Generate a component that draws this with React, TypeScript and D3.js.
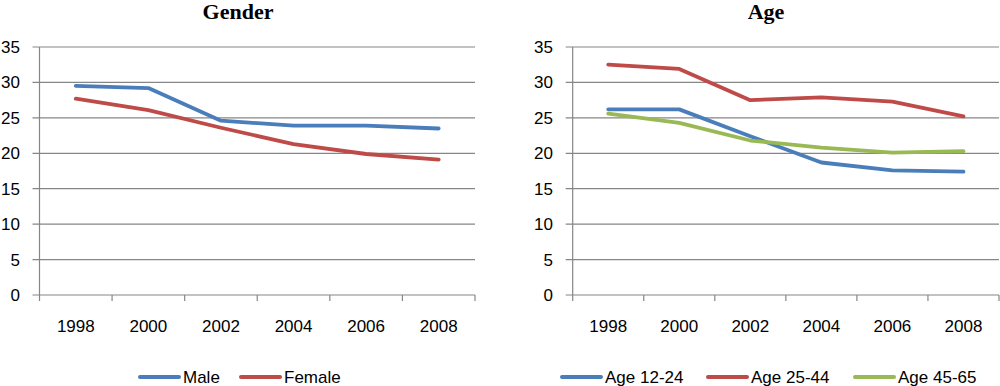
import * as d3 from "d3";

const years = ["1998", "2000", "2002", "2004", "2006", "2008"];
const yTicks = [0, 5, 10, 15, 20, 25, 30, 35];

const male = [29.5, 29.2, 24.6, 23.9, 23.9, 23.5];
const female = [27.7, 26.1, 23.6, 21.3, 19.9, 19.1];

const age1224 = [26.2, 26.2, 22.4, 18.7, 17.6, 17.4];
const age2544 = [32.5, 31.9, 27.5, 27.9, 27.3, 25.2];
const age4565 = [25.6, 24.3, 21.8, 20.8, 20.1, 20.3];

const BLUE = "#4a7ebb";
const RED = "#be4b48";
const GREEN = "#98b954";
const GRID = "#868686";
const FONT = "'Liberation Sans', Arial, sans-serif";

interface Series {
    name: string;
    values: number[];
    color: string;
}

interface PanelProps {
    title: string;
    titleX: number;
    left: number;
    right: number;
    labelRight: number;
    series: Series[];
    legendX: number[];
}

function Panel({ title, titleX, left, right, labelRight, series, legendX }: PanelProps) {
    const top = 47;
    const bottom = 295;
    const x = d3.scaleBand<string>(years, [left, right]).padding(0);
    const y = d3.scaleLinear([0, 35], [bottom, top]);
    const line = d3.line<number>((d, i) => x(years[i])! + x.bandwidth() / 2, y);

    const bounds = [...years.map((yr) => x(yr)!), right];

    return (
        <g>
            <text x={titleX} y={19} textAnchor="middle" fontFamily="'Liberation Serif', 'Times New Roman', serif"
                  fontWeight="bold" fontSize={22} fill="#000">{title}</text>

            {/* gridlines + y labels */}
            {yTicks.map((t) => (
                <g key={t}>
                    <line x1={left - 7} x2={right} y1={y(t)} y2={y(t)} stroke={GRID} strokeWidth={1.2} />
                    <text x={labelRight} y={y(t) + 6} textAnchor="end" fontFamily={FONT} fontSize={17} fill="#000">{t}</text>
                </g>
            ))}

            {/* y axis */}
            <line x1={left} x2={left} y1={top} y2={bottom} stroke={GRID} strokeWidth={1.2} />

            {/* x ticks */}
            {bounds.map((b, i) => (
                <line key={i} x1={b} x2={b} y1={bottom} y2={bottom + 6} stroke={GRID} strokeWidth={1.2} />
            ))}
            {years.map((yr) => (
                <text key={yr} x={x(yr)! + x.bandwidth() / 2} y={332} textAnchor="middle" fontFamily={FONT}
                      fontSize={17} fill="#000">{yr}</text>
            ))}

            {series.map((s) => (
                <path key={s.name} d={line(s.values) || undefined} fill="none" stroke={s.color}
                      strokeWidth={3.8} strokeLinejoin="round" strokeLinecap="round" />
            ))}

            {/* legend */}
            {series.map((s, i) => (
                <g key={s.name}>
                    <line x1={legendX[i]} x2={legendX[i] + 39} y1={377} y2={377} stroke={s.color}
                          strokeWidth={4} strokeLinecap="round" />
                    <text x={legendX[i] + 43} y={383} fontFamily={FONT} fontSize={17} fill="#000">{s.name}</text>
                </g>
            ))}
        </g>
    );
}

export default function App() {
    return (
        <svg width={1000} height={386} style={{ position: "absolute", left: 0, top: 0, background: "#fff" }}>
            <Panel
                title="Gender"
                titleX={238}
                left={39.5}
                right={475}
                labelRight={20}
                series={[
                    { name: "Male", values: male, color: BLUE },
                    { name: "Female", values: female, color: RED },
                ]}
                legendX={[140, 241]}
            />
            <Panel
                title="Age"
                titleX={766}
                left={572.7}
                right={999}
                labelRight={553}
                series={[
                    { name: "Age 12-24", values: age1224, color: BLUE },
                    { name: "Age 25-44", values: age2544, color: RED },
                    { name: "Age 45-65", values: age4565, color: GREEN },
                ]}
                legendX={[562, 708, 855]}
            />
        </svg>
    );
}
